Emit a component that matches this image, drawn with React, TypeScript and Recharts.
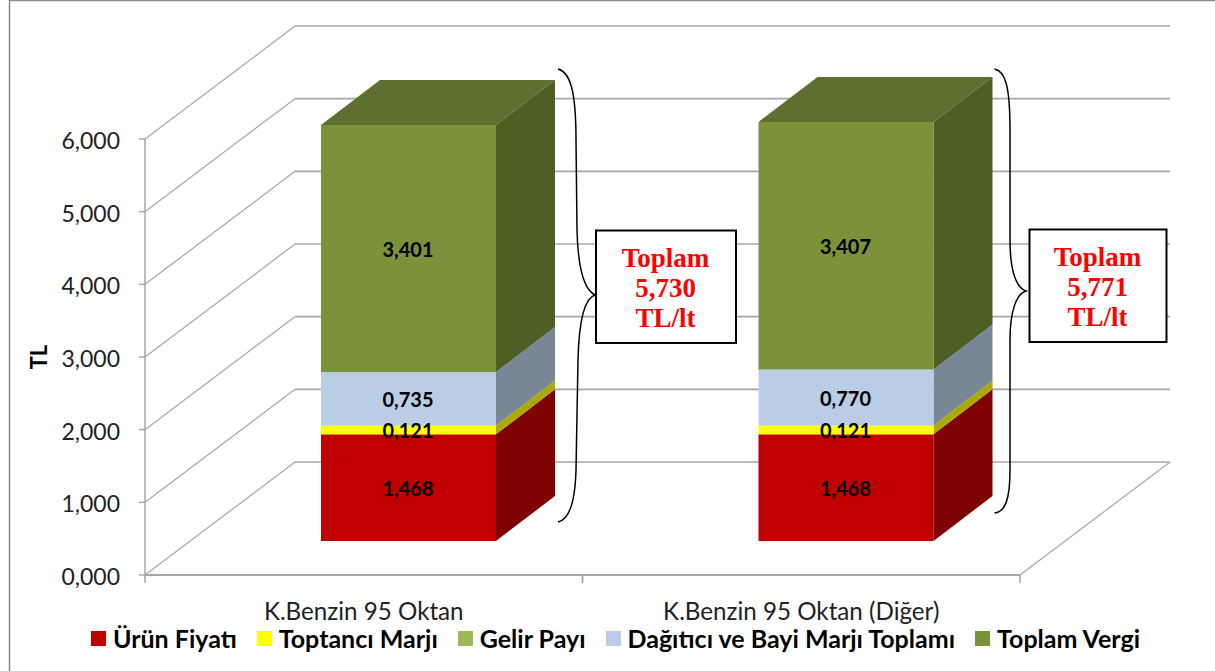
import { BarChart, Bar, XAxis, YAxis, CartesianGrid, LabelList, Legend } from 'recharts';

const categories = ['K.Benzin 95 Oktan', 'K.Benzin 95 Oktan (Diğer)'];
const urunFiyati = [1.468, 1.468];
const toptanciMarji = [0.121, 0.121];
const gelirPayi = [0, 0];
const dagiticiBayi = [0.735, 0.77];
const toplamVergi = [3.401, 3.407];
const yTicks = [0, 1, 2, 3, 4, 5, 6];
const toplamLabels = ['5,730', '5,771'];

const data = categories.map((name, i) => ({
  name,
  urun: urunFiyati[i],
  toptanci: toptanciMarji[i],
  gelir: gelirPayi[i],
  dagitici: dagiticiBayi[i],
  vergi: toplamVergi[i],
}));

const WIDTH = 1215;
const HEIGHT = 671;
const PLOT_LEFT = 145;
const PLOT_RIGHT = 1020;
const PLOT_TOP = 139;
const PLOT_BOTTOM = 575;
const STEP = (PLOT_RIGHT - PLOT_LEFT) / categories.length;

// 3D look: floor depth, how far bars sit in from the front, and bar depth
const WALL_DX = 150;
const WALL_DY = 113;
const BAR_DX = 45;
const BAR_DY = 34;
const DEPTH_DX = 59;
const DEPTH_DY = 45;

const GRID = '#a6a6a6';
const FONT = 'Lato, "Open Sans", sans-serif';

const pts = (list: number[][]) => list.map((p) => p.join(',')).join(' ');

const GridLine = (props: any) => {
  const { x1, x2, y1 } = props;
  const isFloor = Math.abs(y1 - PLOT_BOTTOM) < 1;
  return (
    <g key={props.key} fill="none" stroke={GRID}>
      <line x1={x1} y1={y1} x2={x1 + WALL_DX} y2={y1 - WALL_DY} strokeWidth={1.2} />
      <line x1={x1 + WALL_DX} y1={y1 - WALL_DY} x2={x2 + WALL_DX} y2={y1 - WALL_DY} strokeWidth={1.6} />
      {isFloor && <line x1={x2} y1={y1} x2={x2 + WALL_DX} y2={y1 - WALL_DY} strokeWidth={1.2} />}
    </g>
  );
};

const makeBlock = (side: string, top?: string) => (props: any) => {
  const { x, y, width, height, fill } = props;
  if (!height) return <g />;
  const fx = x + BAR_DX;
  const fy = y - BAR_DY;
  const r = fx + width;
  return (
    <g>
      {top && (
        <polygon
          fill={top}
          points={pts([[fx, fy], [r, fy], [r + DEPTH_DX, fy - DEPTH_DY], [fx + DEPTH_DX, fy - DEPTH_DY]])}
        />
      )}
      <polygon
        fill={side}
        points={pts([[r, fy], [r + DEPTH_DX, fy - DEPTH_DY], [r + DEPTH_DX, fy + height - DEPTH_DY], [r, fy + height]])}
      />
      <rect x={fx} y={fy} width={width} height={height} fill={fill} />
    </g>
  );
};

const BlockLabel = (props: any) => {
  const { x, y, width, height, value } = props;
  return (
    <text
      x={x + BAR_DX + width / 2 - 0.5}
      y={y - BAR_DY + height / 2 + 0.5}
      textAnchor="middle"
      dominantBaseline="central"
      fontFamily={FONT}
      fontSize={20}
      fontWeight={700}
      fill="#000"
    >
      {Number(value).toFixed(3).replace('.', ',')}
    </text>
  );
};

const CategoryTick = (props: any) => {
  const { x, y, payload } = props;
  return (
    <g>
      <line x1={x - STEP / 2} y1={y - 8} x2={x - STEP / 2} y2={y} stroke={GRID} strokeWidth={1.5} />
      <line x1={x + STEP / 2} y1={y - 8} x2={x + STEP / 2} y2={y} stroke={GRID} strokeWidth={1.5} />
      <text x={x} y={610} textAnchor="middle" dominantBaseline="central" fontFamily={FONT} fontSize={24.2} fill="#222">
        {payload.value}
      </text>
    </g>
  );
};

const LegendContent = ({ payload }: { payload?: Array<{ value: string; color: string }> }) => (
  <div style={{ display: 'flex', alignItems: 'center', paddingLeft: 91, gap: 20, fontFamily: FONT, fontSize: 25, fontWeight: 700, color: '#000', whiteSpace: 'nowrap' }}>
    {(payload ?? []).map((item) => (
      <div key={item.value} style={{ display: 'flex', alignItems: 'center', gap: 7 }}>
        <span style={{ display: 'inline-block', width: 15, height: 15, backgroundColor: item.color }} />
        <span>{item.value}</span>
      </div>
    ))}
  </div>
);

const TotalBox = ({ x, y, w, h, total }: { x: number; y: number; w: number; h: number; total: string }) => {
  const cx = x + w / 2 - 0.5;
  return (
    <g>
      <rect x={x} y={y} width={w} height={h} fill="#fff" stroke="#000" strokeWidth={2} />
      <g fontFamily='"Liberation Serif", serif' fontSize={27} fontWeight={700} fill="#ff0000" textAnchor="middle" dominantBaseline="central">
        <text x={cx} y={y + 27.5}>Toplam</text>
        <text x={cx} y={y + 57.5}>{total}</text>
        <text x={cx} y={y + 87.5}>TL/lt</text>
      </g>
    </g>
  );
};

export default function App() {
  return (
    <div style={{ position: 'absolute', left: 0, top: 0, width: WIDTH, height: HEIGHT, background: '#fff' }}>
      <BarChart
        width={WIDTH}
        height={HEIGHT}
        data={data}
        barSize={175}
        margin={{ top: PLOT_TOP, right: WIDTH - PLOT_RIGHT, bottom: HEIGHT - PLOT_BOTTOM - 80, left: 0 }}
      >
        <CartesianGrid vertical={false} horizontal={GridLine} />
        <XAxis dataKey="name" height={50} axisLine={{ stroke: GRID, strokeWidth: 2 }} tickLine={false} tick={CategoryTick} interval={0} />
        <YAxis
          width={PLOT_LEFT}
          domain={[0, 6]}
          ticks={yTicks}
          axisLine={{ stroke: GRID, strokeWidth: 1.5 }}
          tickLine={{ stroke: GRID, strokeWidth: 1.5 }}
          tickSize={6}
          tickMargin={19}
          tickFormatter={(v: number) => v.toFixed(3).replace('.', ',')}
          tick={{ fontFamily: FONT, fontSize: 23, fill: '#222', dy: 2 }}
          label={{ value: 'TL', angle: -90, position: 'insideLeft', dx: 34, style: { fontFamily: FONT, fontSize: 22, fontWeight: 700, fill: '#000', textAnchor: 'middle' } }}
        />
        <Legend height={30} itemSorter={null} content={<LegendContent />} wrapperStyle={{ left: 0, top: 623, width: WIDTH, height: 30 }} />
        <Bar dataKey="urun" name="Ürün Fiyatı" stackId="a" fill="#c00000" isAnimationActive={false} shape={makeBlock('#7f0000')}>
          <LabelList dataKey="urun" content={BlockLabel} />
        </Bar>
        <Bar dataKey="toptanci" name="Toptancı Marjı" stackId="a" fill="#ffff00" isAnimationActive={false} shape={makeBlock('#aaaa00')}>
          <LabelList dataKey="toptanci" content={BlockLabel} />
        </Bar>
        <Bar dataKey="gelir" name="Gelir Payı" stackId="a" fill="#9bbb59" isAnimationActive={false} shape={makeBlock('#6f8a3c')} />
        <Bar dataKey="dagitici" name="Dağıtıcı ve Bayi Marjı Toplamı" stackId="a" fill="#b9cde5" isAnimationActive={false} shape={makeBlock('#788696')}>
          <LabelList dataKey="dagitici" content={BlockLabel} />
        </Bar>
        <Bar dataKey="vergi" name="Toplam Vergi" stackId="a" fill="#7a933b" isAnimationActive={false} shape={makeBlock('#4e5f26', '#5c702f')}>
          <LabelList dataKey="vergi" content={BlockLabel} />
        </Bar>
        {/* frame, braces and total boxes pasted on top of the chart */}
        <path d="M9.5 671 V0.5 H1215" fill="none" stroke="#8c8c8c" strokeWidth={1.5} />
        <path
          d="M558 69 C570 72 576 90 576 140 L577 230 C578 270 585 290 595 295 C585 298 579 320 578 360 L576 470 C575 505 568 520 558 522"
          fill="none"
          stroke="#000"
          strokeWidth={1.5}
        />
        <path
          d="M994.5 69 C1005 71 1010 85 1010 130 L1010 240 C1010 270 1016 288 1026 291 C1016 294 1010 312 1010 340 L1010 470 C1010 500 1005 512 994.5 513"
          fill="none"
          stroke="#000"
          strokeWidth={1.5}
        />
        <TotalBox x={596} y={230.5} w={140} h={112.5} total={toplamLabels[0]} />
        <TotalBox x={1029.5} y={229.5} w={137} h={112.5} total={toplamLabels[1]} />
      </BarChart>
    </div>
  );
}
